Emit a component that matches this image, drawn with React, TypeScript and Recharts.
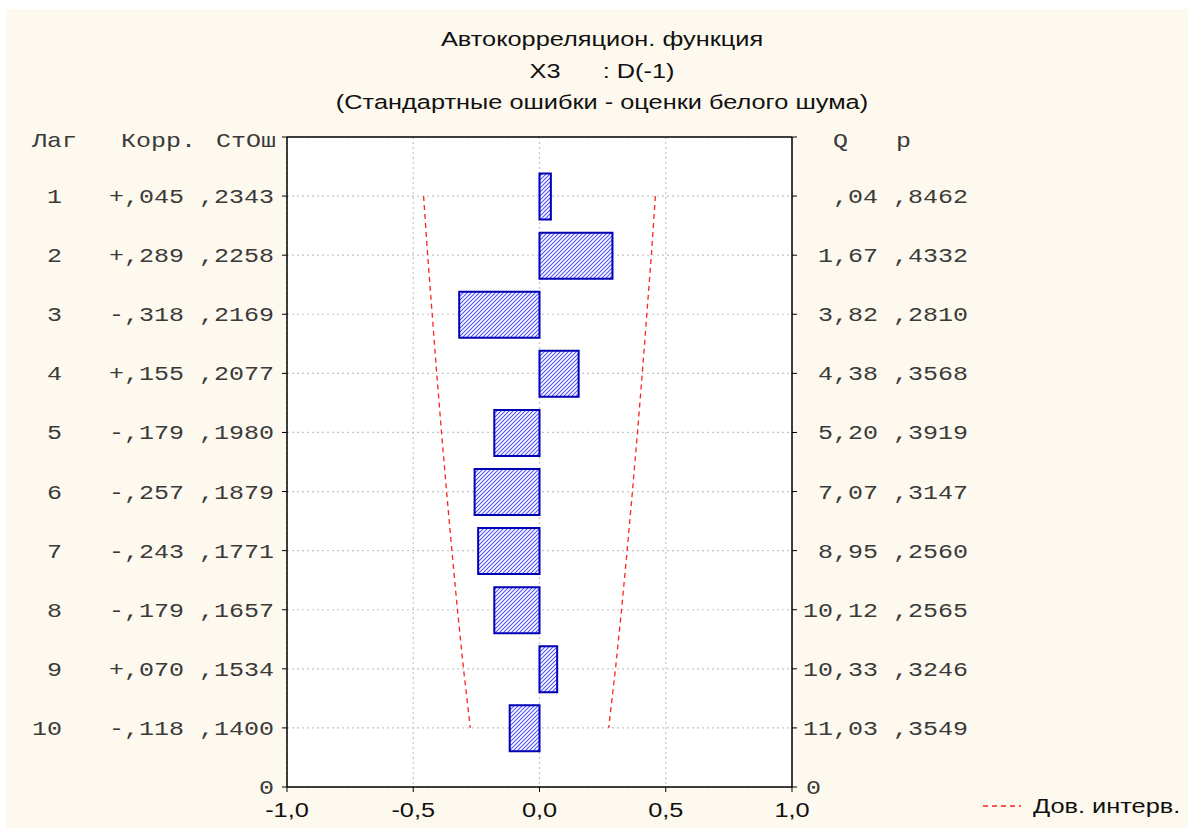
import React from "react";
import {
  Bar,
  CartesianGrid,
  ComposedChart,
  Legend,
  Line,
  ReferenceLine,
  XAxis,
  YAxis,
} from "recharts";

const titleLines = [
  "Автокорреляцион. функция",
  "X3      : D(-1)",
  "(Стандартные ошибки - оценки белого шума)",
];

const lags = [1, 2, 3, 4, 5, 6, 7, 8, 9, 10];
const corr = [0.045, 0.289, -0.318, 0.155, -0.179, -0.257, -0.243, -0.179, 0.07, -0.118];
const stdErr = [0.2343, 0.2258, 0.2169, 0.2077, 0.198, 0.1879, 0.1771, 0.1657, 0.1534, 0.14];
const qStat = [0.04, 1.67, 3.82, 4.38, 5.2, 7.07, 8.95, 10.12, 10.33, 11.03];
const pValue = [0.8462, 0.4332, 0.281, 0.3568, 0.3919, 0.3147, 0.256, 0.2565, 0.3246, 0.3549];
const confUpper = [0.459, 0.443, 0.425, 0.407, 0.388, 0.368, 0.347, 0.325, 0.301, 0.274];
const confLower = [-0.459, -0.443, -0.425, -0.407, -0.388, -0.368, -0.347, -0.325, -0.301, -0.274];

const leftHeader = ["Лаг", "Корр.", "СтОш"];
const rightHeader = ["Q", "p"];
const lagTicks = [0, 1, 2, 3, 4, 5, 6, 7, 8, 9, 10, 11];
const xTicks = [-1, -0.5, 0, 0.5, 1];
const confName = "Дов. интерв.";

const data = lags.map((lag, i) => ({
  lag,
  corr: corr[i],
  upper: confUpper[i],
  lower: confLower[i],
}));

const MONO = "'Liberation Mono', 'Courier New', monospace";
const SANS = "'Liberation Sans', Arial, sans-serif";
const BG = "#fef9ee";

// STATISTICA prints ",2343" instead of "0.2343"
const noZero = (v: number, d: number) => {
  const s = Math.abs(v).toFixed(d).replace(".", ",");
  return s.startsWith("0,") ? s.slice(1) : s;
};
const signed = (v: number) => (v < 0 ? "-" : "+") + noZero(v, 3);

function MonoText({ x, y, text, anchor = "end" }: any) {
  return (
    <text
      transform={`translate(${x},${y}) scale(1.19,1)`}
      textAnchor={anchor}
      fontFamily={MONO}
      fontSize={21}
      fill="#3a3a3a"
      style={{ whiteSpace: "pre" }}
    >
      {text}
    </text>
  );
}

function LeftTick(props: any) {
  const { x, y, payload } = props;
  const v = payload.value;
  if (v === 0) {
    return (
      <g>
        <MonoText x={x - 205} y={y + 10} text={leftHeader[0]} />
        <MonoText x={x - 86} y={y + 10} text={leftHeader[1]} />
        <MonoText x={x - 6} y={y + 10} text={leftHeader[2]} />
      </g>
    );
  }
  if (v === 11) return <MonoText x={x - 8} y={y + 7} text="0" />;
  const i = lags.indexOf(v);
  if (i < 0) return null;
  return (
    <g>
      <MonoText x={x - 220} y={y + 7} text={String(lags[i])} />
      <MonoText x={x - 98} y={y + 7} text={signed(corr[i])} />
      <MonoText x={x - 8} y={y + 7} text={noZero(stdErr[i], 4)} />
    </g>
  );
}

function RightTick(props: any) {
  const { x, y, payload } = props;
  const v = payload.value;
  if (v === 0) {
    return (
      <g>
        <MonoText x={x + 51} y={y + 10} text={rightHeader[0]} />
        <MonoText x={x + 114} y={y + 10} text={rightHeader[1]} />
      </g>
    );
  }
  if (v === 11) return <MonoText x={x + 9} y={y + 7} text="0" anchor="start" />;
  const i = lags.indexOf(v);
  if (i < 0) return null;
  return (
    <g>
      <MonoText x={x + 81} y={y + 7} text={noZero(qStat[i], 2)} />
      <MonoText x={x + 171} y={y + 7} text={noZero(pValue[i], 4)} />
    </g>
  );
}

function BottomTick(props: any) {
  const { x, y, payload } = props;
  const label = payload.value.toFixed(1).replace(".", ",");
  return (
    <text
      transform={`translate(${x},${y + 25}) scale(1.3,1)`}
      textAnchor="middle"
      fontFamily={SANS}
      fontSize={19.5}
      fill="#111"
    >
      {label}
    </text>
  );
}

function renderLegend(props: any) {
  const items = (props.payload || []).filter((p: any) => p.value === confName);
  return (
    <div>
      {items.map((entry: any) => (
        <div key={entry.value} style={{ display: "flex", alignItems: "center", height: 28 }}>
          <svg width={38} height={10}>
            <line x1={0} y1={5} x2={38} y2={5} stroke={entry.color} strokeWidth={1.3} strokeDasharray="5 4" />
          </svg>
          <span
            style={{
              fontFamily: SANS,
              fontSize: 19.5,
              color: "#111",
              marginLeft: 12,
              display: "inline-block",
              transform: "scaleX(1.3)",
              transformOrigin: "left center",
              whiteSpace: "pre",
            }}
          >
            {entry.value}
          </span>
        </div>
      ))}
    </div>
  );
}

export default function App() {
  return (
    <div
      style={{
        position: "absolute",
        left: 0,
        top: 0,
        width: 1188,
        height: 828,
        background: "#fff",
        overflow: "hidden",
      }}
    >
      <div style={{ position: "absolute", left: 6, top: 9, right: 0, bottom: 0, background: BG }} />
      <svg width={1188} height={130} style={{ position: "absolute", left: 0, top: 0 }}>
        {titleLines.map((t, i) => (
          <text
            key={i}
            transform={`translate(602,${46 + i * 31.5}) scale(1.3,1)`}
            textAnchor="middle"
            fontFamily={SANS}
            fontSize={19.5}
            fill="#111"
            style={{ whiteSpace: "pre" }}
          >
            {t}
          </text>
        ))}
      </svg>
      <div style={{ position: "absolute", left: 0, top: 0 }}>
        <ComposedChart
          width={1188}
          height={856}
          data={data}
          layout="vertical"
          margin={{ top: 137, right: 196, bottom: 11, left: 7 }}
        >
          <defs>
            <pattern id="hatch" patternUnits="userSpaceOnUse" width={4} height={4}>
              <rect width={4} height={4} fill="#fff" />
              <path d="M-1,1 l2,-2 M0,4 l4,-4 M3,5 l2,-2" stroke="#5050ff" strokeWidth={1.1} />
            </pattern>
          </defs>
          <CartesianGrid fill="#fff" stroke="#c4c4c4" strokeDasharray="2 3" strokeWidth={1.2} />
          <XAxis
            type="number"
            domain={[-1, 1]}
            ticks={xTicks}
            height={30}
            axisLine={{ stroke: "#000", strokeWidth: 1.5 }}
            tickLine={{ stroke: "#000" }}
            tickSize={5}
            tickMargin={0}
            tick={<BottomTick />}
            interval={0}
          />
          <YAxis
            yAxisId={0}
            type="number"
            dataKey="lag"
            domain={[0, 11]}
            ticks={lagTicks}
            width={280}
            axisLine={{ stroke: "#000", strokeWidth: 1.5 }}
            tickLine={{ stroke: "#000" }}
            tickSize={5}
            tickMargin={0}
            tick={<LeftTick />}
            interval={0}
          />
          <YAxis
            yAxisId="right"
            orientation="right"
            type="number"
            dataKey="lag"
            domain={[0, 11]}
            ticks={lagTicks}
            width={200}
            axisLine={{ stroke: "#000", strokeWidth: 1.5 }}
            tickLine={{ stroke: "#000" }}
            tickSize={5}
            tickMargin={0}
            tick={<RightTick />}
            interval={0}
          />
          <ReferenceLine y={0} yAxisId={0} stroke="#000" strokeWidth={1.5} />
          <Bar
            dataKey="corr"
            yAxisId={0}
            barSize={46}
            fill="url(#hatch)"
            stroke="#0000b4"
            strokeWidth={2}
            legendType="none"
            isAnimationActive={false}
          />
          <Line
            dataKey="upper"
            yAxisId={0}
            name={confName}
            stroke="#ff2020"
            strokeWidth={1.3}
            strokeDasharray="5 4"
            dot={false}
            isAnimationActive={false}
          />
          <Line
            dataKey="lower"
            yAxisId={0}
            name="lower"
            stroke="#ff2020"
            strokeWidth={1.3}
            strokeDasharray="5 4"
            dot={false}
            legendType="none"
            isAnimationActive={false}
          />
          <Line
            dataKey="upper"
            yAxisId="right"
            name="right-anchor"
            stroke="none"
            dot={false}
            legendType="none"
            isAnimationActive={false}
          />
          <Legend
            content={renderLegend}
            wrapperStyle={{ position: "absolute", left: 983, top: 792, width: 205, height: 28 }}
          />
        </ComposedChart>
      </div>
    </div>
  );
}
